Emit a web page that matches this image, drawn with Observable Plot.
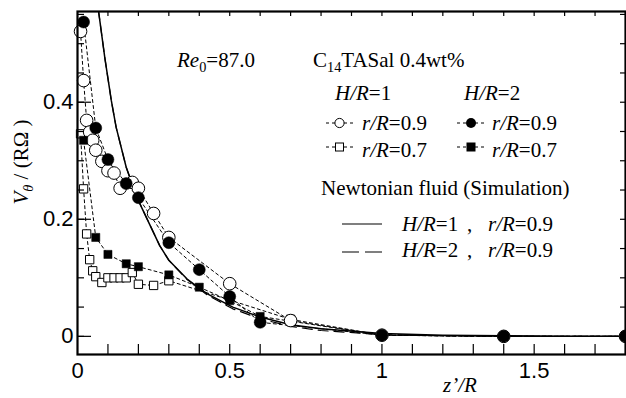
<!DOCTYPE html>
<html><head><meta charset="utf-8">
<script src="https://cdn.jsdelivr.net/npm/d3@7"></script>
<script src="https://cdn.jsdelivr.net/npm/@observablehq/plot@0.6"></script>
<style>html,body{margin:0;padding:0;background:#fff}svg{display:block}</style>
</head><body><div id="chart"></div>
<script>
// H/R=1, r/R=0.9 (open circles)
const h1r09X = [0.01,0.02,0.03,0.04,0.05,0.06,0.08,0.1,0.12,0.14,0.18,0.2,0.25,0.3,0.5,0.7,1.0,1.4,1.8];
const h1r09Y = [0.521,0.437,0.369,0.349,0.335,0.318,0.299,0.283,0.279,0.253,0.263,0.253,0.21,0.169,0.09,0.027,0.002,0.0,0.0];
// H/R=2, r/R=0.9 (filled circles)
const h2r09X = [0.02,0.06,0.1,0.16,0.2,0.3,0.4,0.5,0.6,1.0,1.4,1.8];
const h2r09Y = [0.537,0.356,0.302,0.261,0.237,0.160,0.114,0.068,0.024,0.002,0.0,0.0];
// H/R=1, r/R=0.7 (open squares)
const h1r07X = [0.01,0.02,0.03,0.04,0.05,0.06,0.08,0.1,0.12,0.14,0.16,0.18,0.2,0.25,0.3,0.7,1.0,1.4,1.8];
const h1r07Y = [0.346,0.252,0.175,0.131,0.112,0.102,0.092,0.1,0.1,0.1,0.1,0.109,0.089,0.087,0.095,0.029,0.002,0.0,0.0];
// H/R=2, r/R=0.7 (filled squares)
const h2r07X = [0.02,0.06,0.1,0.16,0.2,0.3,0.4,0.5,0.6,1.0,1.4,1.8];
const h2r07Y = [0.335,0.169,0.140,0.124,0.119,0.105,0.084,0.061,0.034,0.002,0.0,0.0];
// Newtonian simulation
const newtX  = [0.06,0.069,0.09,0.111,0.127,0.16,0.183,0.2,0.24,0.27,0.3,0.36,0.425,0.51,0.6,0.7,0.8,1.0,1.2,1.4,1.6,1.8];
const newt1Y = [0.585,0.556,0.475,0.403,0.357,0.289,0.255,0.232,0.188,0.155,0.13,0.098,0.073,0.05,0.033,0.02,0.013,0.005,0.002,0.001,0.0,0.0];
const newt2Y = [0.585,0.556,0.475,0.403,0.357,0.289,0.255,0.232,0.188,0.155,0.13,0.097,0.071,0.047,0.030,0.017,0.010,0.003,0.001,0.0,0.0,0.0];
// ticks
const xLabelTicks = [0, 0.5, 1, 1.5];
const yLabelTicks = [0, 0.2, 0.4];
const xMinorTicks = [0.1,0.2,0.3,0.4,0.5,0.6,0.7,0.8,0.9,1.0,1.1,1.2,1.3,1.4,1.5,1.6,1.7];
const yMinorTicks = [0,0.05,0.1,0.15,0.2,0.25,0.3,0.35,0.4,0.45,0.5,0.55];
const yMajorTicks = [0, 0.2, 0.4];

const pts = (xs, ys) => xs.map((x, i) => ({x, y: ys[i]}));

const W = 626, H = 398, mL = 77, mR = 1, mT = 11, mB = 44;
const fW = W - mL - mR, fH = H - mT - mB;
const dash = {stroke: "black", strokeWidth: 1, strokeDasharray: "3,3"};

const svg = Plot.plot({
  width: W, height: H,
  marginLeft: mL, marginRight: mR, marginTop: mT, marginBottom: mB,
  style: {fontFamily: "'Liberation Sans', Arial, sans-serif", background: "white", color: "black"},
  x: {domain: [0, 1.8], label: null},
  y: {domain: [-0.031, 0.555], label: null},
  marks: [
    Plot.line(pts(newtX, newt2Y), {x: "x", y: "y", stroke: "black", strokeWidth: 1.2, strokeDasharray: "10,6", clip: true}),
    Plot.line(pts(newtX, newt1Y), {x: "x", y: "y", stroke: "black", strokeWidth: 1.5, clip: true}),
    Plot.line(pts(h1r09X, h1r09Y), {x: "x", y: "y", ...dash}),
    Plot.line(pts(h2r09X, h2r09Y), {x: "x", y: "y", ...dash}),
    Plot.line(pts(h1r07X, h1r07Y), {x: "x", y: "y", ...dash}),
    Plot.line(pts(h2r07X, h2r07Y), {x: "x", y: "y", ...dash}),
    Plot.dot(pts(h1r07X, h1r07Y), {x: "x", y: "y", symbol: "square", r: 4.7, fill: "white", stroke: "black", strokeWidth: 1}),
    Plot.dot(pts(h1r09X, h1r09Y), {x: "x", y: "y", symbol: "circle", r: 6.3, fill: "white", stroke: "black", strokeWidth: 1}),
    Plot.dot(pts(h2r07X, h2r07Y), {x: "x", y: "y", symbol: "square", r: 4.6, fill: "black", stroke: "black", strokeWidth: 0.5}),
    Plot.dot(pts(h2r09X, h2r09Y), {x: "x", y: "y", symbol: "circle", r: 6, fill: "black", stroke: "black", strokeWidth: 0.5}),
    // ticks (inward)
    Plot.ruleX(xMinorTicks, {x: d => d, insetTop: fH - 10, stroke: "black", strokeWidth: 1.2}),
    Plot.ruleX(xMinorTicks, {x: d => d, insetBottom: fH - 5, stroke: "black", strokeWidth: 1.2}),
    Plot.ruleY(yMinorTicks, {y: d => d, insetRight: fW - 7, stroke: "black", strokeWidth: 1.2}),
    Plot.ruleY(yMajorTicks, {y: d => d, insetRight: fW - 14, stroke: "black", strokeWidth: 1.2}),
    Plot.ruleY(yMinorTicks, {y: d => d, insetLeft: fW - 5, stroke: "black", strokeWidth: 1.2}),
    Plot.frame({stroke: "black", strokeWidth: 2.2}),
    Plot.axisX({ticks: xLabelTicks, tickSize: 0, tickPadding: 8, fontSize: 22, tickFormat: d => String(d), label: null}),
    Plot.axisY({ticks: yLabelTicks, tickSize: 0, tickPadding: 4, fontSize: 22, tickFormat: d => String(d), label: null})
  ]
});
document.getElementById("chart").appendChild(svg);

// ---- annotations / legend ----
const root = d3.select(svg);
const SERIF = "'Liberation Serif', 'Times New Roman', serif";
function rich(x, y, parts, size = 21, g = root) {
  const t = g.append("text").attr("x", x).attr("y", y).attr("text-anchor", "start")
    .attr("font-family", SERIF).attr("font-size", size).attr("fill", "black");
  let shift = 0;
  for (const p of parts) {
    const [s, it, sub] = p;
    const ts = t.append("tspan").text(s);
    if (it) ts.attr("font-style", "italic");
    const target = sub ? 5 : 0;
    if (target !== shift) { ts.attr("dy", target - shift); shift = target; }
    if (sub) ts.attr("font-size", size * 0.68);
  }
  return t;
}
rich(177, 67, [["Re", true], ["0", false, true], ["=87.0", false]]);
rich(313, 67, [["C", false], ["14", false, true], ["TASal 0.4wt%", false]]);
rich(335, 100, [["H/R", true], ["=1", false]]);
rich(464, 100, [["H/R", true], ["=2", false]]);
rich(362, 130, [["r/R", true], ["=0.9", false]]);
rich(492, 130, [["r/R", true], ["=0.9", false]]);
rich(362, 157, [["r/R", true], ["=0.7", false]]);
rich(492, 157, [["r/R", true], ["=0.7", false]]);
rich(321, 195, [["Newtonian fluid (Simulation)", false]]);
rich(402, 231, [["H/R", true], ["=1", false]]);
rich(467, 231, [[",", false]]);
rich(488, 231, [["r/R", true], ["=0.9", false]]);
rich(402, 257, [["H/R", true], ["=2", false]]);
rich(467, 257, [[",", false]]);
rich(488, 257, [["r/R", true], ["=0.9", false]]);

const lg = root.append("g");
function sample(x1, x2, y, kind) {
  lg.append("line").attr("x1", x1).attr("x2", x2).attr("y1", y).attr("y2", y)
    .attr("stroke", "black").attr("stroke-width", 1).attr("stroke-dasharray", "3,3");
  const cx = (x1 + x2) / 2;
  if (kind === "oc") lg.append("circle").attr("cx", cx).attr("cy", y).attr("r", 4.6).attr("fill", "white").attr("stroke", "black");
  if (kind === "fc") lg.append("circle").attr("cx", cx).attr("cy", y).attr("r", 5).attr("fill", "black");
  if (kind === "os") lg.append("rect").attr("x", cx - 4).attr("y", y - 4).attr("width", 8).attr("height", 8).attr("fill", "white").attr("stroke", "black");
  if (kind === "fs") lg.append("rect").attr("x", cx - 4.5).attr("y", y - 4.5).attr("width", 9).attr("height", 9).attr("fill", "black");
}
sample(326, 353, 123, "oc");
sample(457, 485, 123, "fc");
sample(326, 353, 147, "os");
sample(457, 485, 147, "fs");
lg.append("line").attr("x1", 342).attr("x2", 382).attr("y1", 224).attr("y2", 224).attr("stroke", "black").attr("stroke-width", 1.2);
lg.append("line").attr("x1", 342).attr("x2", 383).attr("y1", 252).attr("y2", 252).attr("stroke", "black").attr("stroke-width", 1.2).attr("stroke-dasharray", "17,6");

// axis titles
rich(443, 392, [["z\u2019/R", true]]);
const yl = root.append("g").attr("transform", "translate(28,162) rotate(-90)");
rich(0, 0, [["V", true], ["\u03B8", true, true], [" / (R\u03A9 )", false]], 21, yl).attr("text-anchor", "middle");
</script>
</body></html>
